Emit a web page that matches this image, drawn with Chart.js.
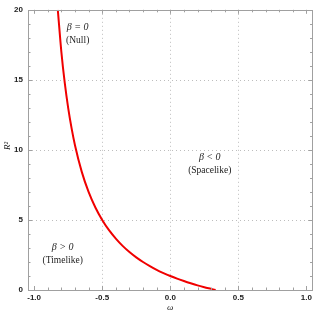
<!DOCTYPE html>
<html>
<head>
<meta charset="utf-8">
<script src="https://cdn.jsdelivr.net/npm/chart.js@4.4.0/dist/chart.umd.min.js"></script>
<style>
  html, body { margin: 0; padding: 0; background: #fff; }
  #wrap { width: 315px; height: 316px; }
</style>
</head>
<body>
<div id="wrap"><canvas id="myChart" width="315" height="316"></canvas></div>
<script>
// curve
const omega = [-0.826, -0.8, -0.775, -0.75, -0.725, -0.7, -0.65, -0.6, -0.55, -0.5, -0.45, -0.4, -0.35, -0.3, -0.25, -0.2, -0.15, -0.1, -0.05, 0, 0.05, 0.1, 0.15, 0.2, 0.25, 0.3, 0.333]
const rSq = [20, 17, 14.78, 13, 11.55, 10.33, 8.43, 7, 5.89, 5, 4.27, 3.67, 3.15, 2.71, 2.33, 2.0, 1.71, 1.44, 1.21, 1.0, 0.81, 0.64, 0.48, 0.33, 0.2, 0.08, 0]

const xTicks = [-1.0, -0.5, 0.0, 0.5, 1.0]
const yTicks = [0, 5, 10, 15, 20]

// region labels [omega, R^2, line1, line2]
const regions = [
    [-0.68, 18.3, "β = 0", "(Null)"],
    [0.29, 9.0, "β < 0", "(Spacelike)"],
    [-0.79, 2.6, "β > 0", "(Timelike)"]
]

const points = omega.map((w, i) => ({x: w, y: rSq[i]}))

const tickFont = {family: "Liberation Sans, Arial, sans-serif", size: 8, weight: "bold"}
const frameColor = "#a0a0a0"

const framePlugin = {
    id: "frame",
    beforeDatasetsDraw(chart) {
        const {ctx, chartArea: a, scales: {x, y}} = chart
        ctx.save()
        ctx.strokeStyle = "#bdbdbd"
        ctx.lineWidth = 1
        ctx.setLineDash([1, 3])
        xTicks.forEach(v => {
            if (v <= -1 || v >= 1) return
            const px = Math.round(x.getPixelForValue(v)) + 0.5
            ctx.beginPath(); ctx.moveTo(px, a.top); ctx.lineTo(px, a.bottom); ctx.stroke()
        })
        yTicks.forEach(v => {
            if (v <= 0 || v >= 20) return
            const py = Math.round(y.getPixelForValue(v)) + 0.5
            ctx.beginPath(); ctx.moveTo(a.left, py); ctx.lineTo(a.right, py); ctx.stroke()
        })
        ctx.restore()
    },
    afterDraw(chart) {
        const {ctx, chartArea: a, scales: {x, y}} = chart
        ctx.save()
        ctx.strokeStyle = frameColor
        ctx.lineWidth = 1
        ctx.strokeRect(Math.round(a.left) + 0.5, Math.round(a.top) + 0.5, Math.round(a.right - a.left) - 1, Math.round(a.bottom - a.top))
        // x ticks, inward, bottom and top
        for (let k = -10; k <= 10; k++) {
            const v = k / 10
            const len = (k % 5 === 0) ? 4 : 2.5
            const px = Math.round(x.getPixelForValue(v)) + 0.5
            ctx.beginPath()
            ctx.moveTo(px, a.bottom); ctx.lineTo(px, a.bottom - len)
            ctx.moveTo(px, a.top); ctx.lineTo(px, a.top + len)
            ctx.stroke()
        }
        for (let k = 0; k <= 20; k++) {
            const len = (k % 5 === 0) ? 4 : 2.5
            const py = Math.round(y.getPixelForValue(k)) + 0.5
            ctx.beginPath()
            ctx.moveTo(a.left, py); ctx.lineTo(a.left + len, py)
            ctx.moveTo(a.right, py); ctx.lineTo(a.right - len, py)
            ctx.stroke()
        }
        // region labels
        ctx.fillStyle = "#222"
        ctx.textAlign = "center"
        ctx.textBaseline = "middle"
        regions.forEach(r => {
            const px = x.getPixelForValue(r[0])
            const py = y.getPixelForValue(r[1])
            ctx.font = "italic 10px Liberation Serif, serif"
            ctx.fillText(r[2], px, py - 6.5)
            ctx.font = "9.5px Liberation Serif, serif"
            ctx.fillText(r[3], px, py + 7)
        })
        // axis titles
        ctx.font = "italic 9px Liberation Serif, serif"
        ctx.fillText("ω", x.getPixelForValue(0), 308)
        ctx.translate(8, 146)
        ctx.rotate(-Math.PI / 2)
        ctx.fillText("R²", 0, 0)
        ctx.restore()
    }
}

new Chart(document.getElementById("myChart").getContext("2d"), {
    type: "scatter",
    data: {
        datasets: [{
            data: points,
            showLine: true,
            borderColor: "rgb(240, 0, 0)",
            borderWidth: 2,
            pointRadius: 0,
            cubicInterpolationMode: "monotone"
        }]
    },
    options: {
        responsive: false,
        animation: false,
        layout: {padding: {top: 3, right: 1, left: 0, bottom: 0}},
        plugins: {legend: {display: false}, tooltip: {enabled: false}},
        scales: {
            x: {
                type: "linear",
                min: -1.045,
                max: 1.045,
                afterBuildTicks: s => { s.ticks = xTicks.map(v => ({value: v})) },
                afterFit: s => { s.height = 26 },
                grid: {display: false, drawTicks: false},
                border: {display: false},
                ticks: {
                    font: tickFont,
                    color: "#222",
                    padding: 3,
                    maxRotation: 0,
                    callback: v => v.toFixed(1)
                }
            },
            y: {
                type: "linear",
                min: 0,
                max: 20,
                afterBuildTicks: s => { s.ticks = yTicks.map(v => ({value: v})) },
                afterFit: s => { s.width = 28 },
                grid: {display: false, drawTicks: false},
                border: {display: false},
                ticks: {
                    font: tickFont,
                    color: "#222",
                    padding: 5
                }
            }
        }
    },
    plugins: [framePlugin]
})
</script>
</body>
</html>
